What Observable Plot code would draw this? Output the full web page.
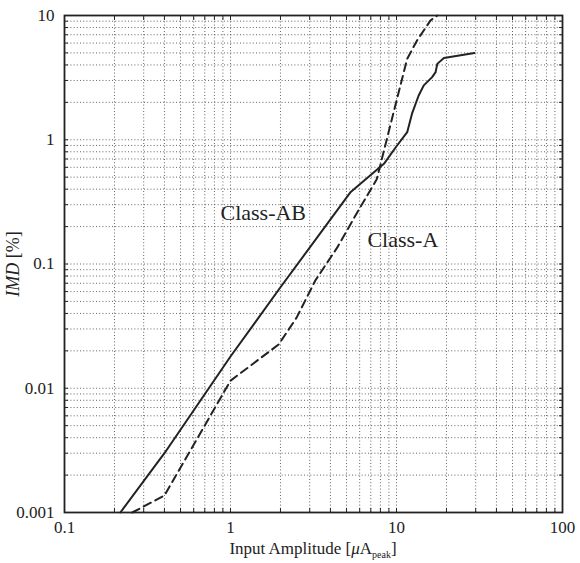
<!DOCTYPE html>
<html>
<head>
<meta charset="utf-8">
<script src="https://cdn.jsdelivr.net/npm/d3@7"></script>
<script src="https://cdn.jsdelivr.net/npm/@observablehq/plot@0.6"></script>
<style>
  html, body { margin: 0; padding: 0; background: #fff; }
  #chart svg { display: block; }
</style>
</head>
<body>
<div id="chart"></div>
<script>
// Class-AB (solid)
const abX = [0.217, 0.4, 1, 2, 5.3, 8.4, 9.9, 11.6, 12.4, 13.6, 14.6, 16.4, 17.2, 17.6, 19.3, 29.5];
const abY = [0.001, 0.003, 0.018, 0.065, 0.38, 0.64, 0.87, 1.15, 1.62, 2.27, 2.74, 3.19, 3.5, 4.08, 4.55, 5.0];
// Class-A (dashed)
const aX = [0.256, 0.4, 1, 1.95, 2.5, 3.25, 4.4, 5.8, 7.6, 9.9, 11.6, 13.3, 16, 17.6];
const aY = [0.001, 0.00137, 0.0115, 0.0225, 0.037, 0.074, 0.136, 0.26, 0.48, 1.95, 4.48, 6.3, 9.1, 10];

const xTicks = [0.1, 1, 10, 100];
const yTicks = [0.001, 0.01, 0.1, 1, 10];
const xDomain = [0.1, 100];
const yDomain = [0.001, 10];

const labelText = ["Class-AB", "Class-A"];
const labelX = [0.87, 6.68];
const labelY = [0.228, 0.1365];

const abData = abX.map((x, i) => ({x, y: abY[i]}));
const aData = aX.map((x, i) => ({x, y: aY[i]}));
const labels = labelText.map((t, i) => ({t, x: labelX[i], y: labelY[i]}));

const xGrid = d3.scaleLog().domain(xDomain).ticks();
const yGrid = d3.scaleLog().domain(yDomain).ticks();

const font = "'Liberation Serif', 'DejaVu Serif', serif";
const ink = "#222";
const gridStyle = {stroke: "#333", strokeWidth: 0.9, strokeDasharray: "1,2.2", strokeOpacity: 0.85};

const plot = Plot.plot({
  width: 580,
  height: 563,
  marginLeft: 64,
  marginRight: 18,
  marginTop: 15,
  marginBottom: 51,
  style: {fontFamily: font, fontSize: "17px", color: ink, background: "#fff"},
  x: {type: "log", domain: xDomain},
  y: {type: "log", domain: yDomain},
  marks: [
    Plot.ruleX(xGrid, gridStyle),
    Plot.ruleY(yGrid, gridStyle),
    // inner tick marks
    Plot.axisX(xGrid, {anchor: "bottom", tickSize: 4, dy: -4, text: null, label: null, stroke: ink}),
    Plot.axisX(xGrid, {anchor: "top", tickSize: 4, dy: 4, text: null, label: null, stroke: ink}),
    Plot.axisY(yGrid, {anchor: "left", tickSize: 4, dx: 4, text: null, label: null, stroke: ink}),
    Plot.axisY(yGrid, {anchor: "right", tickSize: 4, dx: -4, text: null, label: null, stroke: ink}),
    // labels
    Plot.axisX(xTicks, {anchor: "bottom", tickSize: 0, tickPadding: 8, tickFormat: d => String(d), label: null, fontSize: 17, fill: ink}),
    Plot.axisY(yTicks, {anchor: "left", tickSize: 0, tickPadding: 10, tickFormat: d => String(d), label: null, fontSize: 17, fill: ink}),
    Plot.line(abData, {x: "x", y: "y", stroke: ink, strokeWidth: 2}),
    Plot.line(aData, {x: "x", y: "y", stroke: ink, strokeWidth: 2, strokeDasharray: "8,5"}),
    Plot.text(labels, {x: "x", y: "y", text: "t", textAnchor: "start", lineAnchor: "bottom", fontSize: 22, fill: ink, fontFamily: font}),
    Plot.frame({stroke: ink, strokeWidth: 1.8})
  ]
});

const svg = d3.select(plot);
// x-axis label
const xl = svg.append("text")
  .attr("x", 313).attr("y", 554)
  .attr("text-anchor", "middle")
  .attr("font-family", font).attr("font-size", 17).attr("fill", ink);
xl.append("tspan").text("Input Amplitude [");
xl.append("tspan").attr("font-style", "italic").text("μ");
xl.append("tspan").text("A");
xl.append("tspan").attr("font-size", 10).attr("dy", 4).text("peak");
xl.append("tspan").attr("dy", -4).text("]");
// y-axis label
const yl = svg.append("text")
  .attr("transform", "translate(19,264) rotate(-90)")
  .attr("text-anchor", "middle")
  .attr("font-family", font).attr("font-size", 18).attr("fill", ink);
yl.append("tspan").attr("font-style", "italic").text("IMD");
yl.append("tspan").text(" [%]");

document.getElementById("chart").appendChild(plot);
</script>
</body>
</html>
